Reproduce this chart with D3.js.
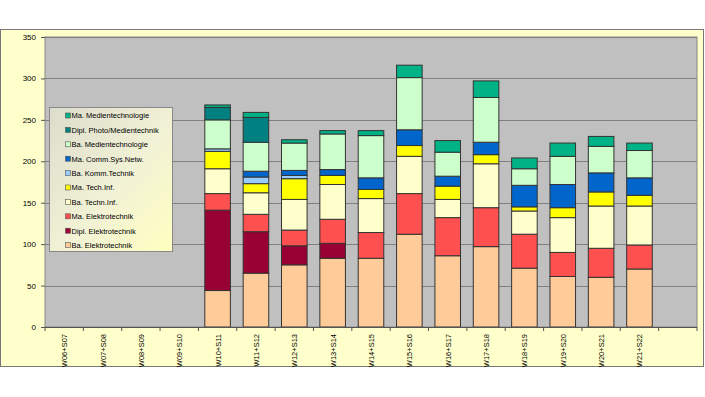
<!DOCTYPE html>
<meta charset="utf-8">
<style>
body {
  margin: 0;
  background: #fff;
  font-family: "Liberation Sans", Arial, sans-serif;
}
.grid line {
  stroke: #808080;
  stroke-width: 1;
}
.bar {
  stroke: #333;
  stroke-width: 1;
}
.axis text {
  font-size: 8px;
  fill: #000;
}
.axis path, .axis line {
  stroke: #555;
}
.legend text {
  font-size: 7.5px;
  fill: #000;
}
</style>
<body>
<script src="https://cdn.jsdelivr.net/npm/d3@7"></script>
<script>

var width = 705,
    height = 397;

var margin = {top: 37, right: 7, bottom: 70, left: 45};

// semesters (last slot is empty in the original)
var semesters = ["W06+S07", "W07+S08", "W08+S09", "W09+S10", "W10+S11", "W11+S12",
  "W12+S13", "W13+S14", "W14+S15", "W15+S16", "W16+S17", "W17+S18", "W18+S19",
  "W19+S20", "W20+S21", "W21+S22", ""];

var courses = ["Ba. Elektrotechnik", "Dipl. Elektrotechnik", "Ma. Elektrotechnik",
  "Ba. Techn.Inf.", "Ma. Tech.Inf.", "Ba. Komm.Technik", "Ma. Comm.Sys.Netw.",
  "Ba. Medientechnologie", "Dipl. Photo/Medientechnik", "Ma. Medientechnologie"];

var colors = ["#ffcc99", "#990033", "#ff5050", "#ffffcc", "#ffff00",
  "#99ccff", "#0066cc", "#ccffcc", "#008080", "#00b386"];

// one array per course, one value per semester
var baET     = [0, 0, 0, 0, 44, 65, 75, 83, 83, 112, 86, 97, 71, 61, 60, 70, 0];
var diplET   = [0, 0, 0, 0, 97, 50, 23, 18, 0, 0, 0, 0, 0, 0, 0, 0, 0];
var maET     = [0, 0, 0, 0, 20, 21, 19, 29, 31, 49, 46, 47, 41, 29, 35, 29, 0];
var baTI     = [0, 0, 0, 0, 30, 26, 37, 42, 41, 45, 22, 53, 28, 42, 51, 47, 0];
var maTI     = [0, 0, 0, 0, 21, 11, 25, 11, 11, 13, 16, 11, 5, 12, 17, 13, 0];
var baKomm   = [0, 0, 0, 0, 3, 8, 4, 0, 0, 0, 0, 0, 0, 0, 0, 0, 0];
var maComm   = [0, 0, 0, 0, 0, 7, 6, 7, 14, 19, 12, 15, 26, 28, 23, 21, 0];
var baMedien = [0, 0, 0, 0, 35, 35, 33, 43, 51, 63, 29, 54, 20, 34, 32, 33, 0];
var diplFoto = [0, 0, 0, 0, 15, 30, 0, 0, 0, 0, 0, 0, 0, 0, 0, 0, 0];
var maMedien = [0, 0, 0, 0, 3, 6, 4, 4, 6, 15, 14, 20, 13, 16, 12, 9, 0];

var yTicks = [0, 50, 100, 150, 200, 250, 300, 350];

var series = [baET, diplET, maET, baTI, maTI, baKomm, maComm, baMedien, diplFoto, maMedien];

var rows = semesters.map(function(s, i) {
  var r = {semester: s};
  courses.forEach(function(c, k) { r[c] = series[k][i]; });
  return r;
});

var stacked = d3.stack().keys(courses)(rows);

var svg = d3.select("body").append("svg")
    .attr("width", width)
    .attr("height", height);

var defs = svg.append("defs");
var grad = defs.append("linearGradient")
    .attr("id", "legendGrad")
    .attr("x1", "0%").attr("y1", "0%")
    .attr("x2", "100%").attr("y2", "100%");
grad.append("stop").attr("offset", "0%").attr("stop-color", "#dcdccc");
grad.append("stop").attr("offset", "55%").attr("stop-color", "#f2f2d6");
grad.append("stop").attr("offset", "100%").attr("stop-color", "#ffffc0");

// outer chart area
svg.append("rect")
    .attr("x", 0.5)
    .attr("y", 29.5)
    .attr("width", 703)
    .attr("height", 337)
    .style("fill", "#ffffcc")
    .style("stroke", "#777");

var plotW = width - margin.left - margin.right - 1,
    plotH = 327 - margin.top;

var g = svg.append("g")
    .attr("transform", "translate(" + margin.left + "," + margin.top + ")");

var x = d3.scaleBand()
    .domain(semesters.map(function(d, i) { return i; }))
    .range([0, plotW])
    .paddingInner(1 / 3)
    .paddingOuter(1 / 6);

var y = d3.scaleLinear()
    .domain([0, 350])
    .range([plotH, 0]);

g.append("rect")
    .attr("width", plotW)
    .attr("height", plotH)
    .style("fill", "#c0c0c0")
    .style("stroke", "#888");

g.append("g")
    .attr("class", "grid")
    .selectAll("line")
    .data(yTicks.slice(1))
  .enter().append("line")
    .attr("x1", 0)
    .attr("x2", plotW)
    .attr("y1", function(d) { return Math.round(y(d)) + 0.5; })
    .attr("y2", function(d) { return Math.round(y(d)) + 0.5; });

var layer = g.selectAll(".layer")
    .data(stacked)
  .enter().append("g")
    .attr("class", "layer")
    .style("fill", function(d, i) { return colors[i]; });

layer.selectAll("rect")
    .data(function(d) { return d.filter(function(p) { return p[1] - p[0] > 0; }); })
  .enter().append("rect")
    .attr("class", "bar")
    .attr("x", function(d) { return x(rows.indexOf(d.data)); })
    .attr("width", x.bandwidth())
    .attr("y", function(d) { return y(d[1]); })
    .attr("height", function(d) { return y(d[0]) - y(d[1]); });

// y axis
var yAxis = g.append("g")
    .attr("class", "axis")
    .call(d3.axisLeft(y).tickValues(yTicks).tickSize(4).tickPadding(5));
yAxis.select(".domain").remove();

// x axis: ticks between categories, labels rotated
var step = x.step();
var xAxis = g.append("g")
    .attr("class", "axis")
    .attr("transform", "translate(0," + plotH + ")");

xAxis.append("line")
    .attr("x1", 0).attr("x2", plotW)
    .attr("y1", 0.5).attr("y2", 0.5);

xAxis.selectAll(".tk")
    .data(d3.range(semesters.length + 1))
  .enter().append("line")
    .attr("class", "tk")
    .attr("x1", function(d) { return d * step; })
    .attr("x2", function(d) { return d * step; })
    .attr("y1", 0)
    .attr("y2", 4);

xAxis.selectAll("text")
    .data(semesters)
  .enter().append("text")
    .attr("transform", function(d, i) {
      return "translate(" + (x(i) + x.bandwidth() / 2 + 3) + ",7)rotate(-90)";
    })
    .style("text-anchor", "end")
    .style("font-size", "7.5px")
    .text(function(d) { return d; });

// legend
var legend = svg.append("g")
    .attr("class", "legend")
    .attr("transform", "translate(49.5,107.5)");

legend.append("rect")
    .attr("width", 123)
    .attr("height", 144)
    .style("fill", "url(#legendGrad)")
    .style("stroke", "#888");

var items = legend.selectAll(".item")
    .data(courses.slice().reverse())
  .enter().append("g")
    .attr("class", "item")
    .attr("transform", function(d, i) { return "translate(0," + (8 + i * 14.4) + ")"; });

items.append("rect")
    .attr("x", 16)
    .attr("y", -2.5)
    .attr("width", 5)
    .attr("height", 5)
    .style("fill", function(d) { return colors[courses.indexOf(d)]; })
    .style("stroke", "#555")
    .style("stroke-width", 0.6);

items.append("text")
    .attr("x", 22)
    .attr("y", 2.8)
    .text(function(d) { return d; });

</script>
